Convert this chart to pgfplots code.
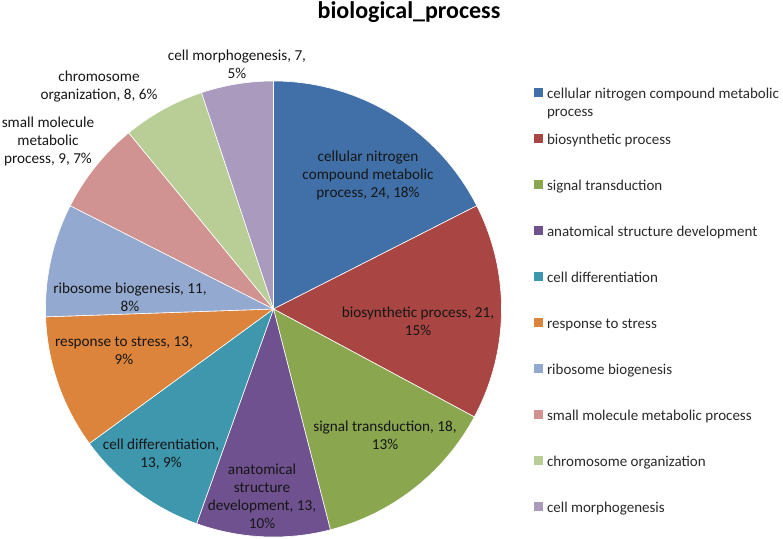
\documentclass[border=0pt]{standalone}
\usepackage{pgfplots}
\pgfplotsset{compat=1.18}
\usepackage{fontspec}
\setmainfont{Carlito}
\definecolor{cA}{HTML}{4170A8}
\definecolor{cB}{HTML}{A94542}
\definecolor{cC}{HTML}{8AA64F}
\definecolor{cD}{HTML}{6F5190}
\definecolor{cE}{HTML}{3F97AE}
\definecolor{cF}{HTML}{DC843B}
\definecolor{cG}{HTML}{93A9D0}
\definecolor{cH}{HTML}{D09392}
\definecolor{cI}{HTML}{B9CE97}
\definecolor{cJ}{HTML}{A99ABE}
\definecolor{labtext}{HTML}{161616}
\definecolor{legtext}{HTML}{2A2A2A}
% data values
\def\vA{24}\def\vB{21}\def\vC{18}\def\vD{13}\def\vE{13}
\def\vF{13}\def\vG{11}\def\vH{9}\def\vI{8}\def\vJ{7}
\pgfmathsetmacro\total{\vA+\vB+\vC+\vD+\vE+\vF+\vG+\vH+\vI+\vJ}
\pgfmathsetmacro\aA{90}
\pgfmathsetmacro\aB{\aA-360*\vA/\total}
\pgfmathsetmacro\aC{\aB-360*\vB/\total}
\pgfmathsetmacro\aD{\aC-360*\vC/\total}
\pgfmathsetmacro\aE{\aD-360*\vD/\total}
\pgfmathsetmacro\aF{\aE-360*\vE/\total}
\pgfmathsetmacro\aG{\aF-360*\vF/\total}
\pgfmathsetmacro\aH{\aG-360*\vG/\total}
\pgfmathsetmacro\aI{\aH-360*\vH/\total}
\pgfmathsetmacro\aJ{\aI-360*\vI/\total}
\pgfmathsetmacro\aK{\aJ-360*\vJ/\total}
\def\cx{273.5}\def\cy{230}\def\R{228}
\newcommand{\lab}{\fontsize{15.2bp}{18bp}\selectfont}
\begin{document}
\begin{tikzpicture}
\begin{axis}[
  scale only axis, width=783bp, height=539bp,
  xmin=0, xmax=783, ymin=0, ymax=539,
  hide axis, clip=false,
  legend cell align=left,
  legend style={at={(axis cs:534,451)}, anchor=north west, draw=none, fill=none,
    inner sep=0pt, outer sep=0pt, text=legtext,
    font=\fontsize{15bp}{19bp}\selectfont,
    row sep=30bp, column sep=4bp,
    nodes={inner sep=0pt, text height=11bp, text depth=5bp}},
  legend image code/.code={\fill[#1,draw=none] (0bp,-1bp) rectangle (9bp,8bp);},
  every axis plot/.append style={draw=white, line width=0.6pt, samples=90, variable=\t},
]
\addplot[fill=cA, domain=\aB:\aA] ({\cx+\R*cos(\t)},{\cy+\R*sin(\t)}) -- (axis cs:\cx,\cy) -- cycle;
\addlegendentry{\begin{tabular}[t]{@{}l@{}}cellular nitrogen compound metabolic\\[-1bp]process\end{tabular}}
\addplot[fill=cB, domain=\aC:\aB] ({\cx+\R*cos(\t)},{\cy+\R*sin(\t)}) -- (axis cs:\cx,\cy) -- cycle;
\addlegendentry{biosynthetic process}
\addplot[fill=cC, domain=\aD:\aC] ({\cx+\R*cos(\t)},{\cy+\R*sin(\t)}) -- (axis cs:\cx,\cy) -- cycle;
\addlegendentry{signal transduction}
\addplot[fill=cD, domain=\aE:\aD] ({\cx+\R*cos(\t)},{\cy+\R*sin(\t)}) -- (axis cs:\cx,\cy) -- cycle;
\addlegendentry{anatomical structure development}
\addplot[fill=cE, domain=\aF:\aE] ({\cx+\R*cos(\t)},{\cy+\R*sin(\t)}) -- (axis cs:\cx,\cy) -- cycle;
\addlegendentry{cell differentiation}
\addplot[fill=cF, domain=\aG:\aF] ({\cx+\R*cos(\t)},{\cy+\R*sin(\t)}) -- (axis cs:\cx,\cy) -- cycle;
\addlegendentry{response to stress}
\addplot[fill=cG, domain=\aH:\aG] ({\cx+\R*cos(\t)},{\cy+\R*sin(\t)}) -- (axis cs:\cx,\cy) -- cycle;
\addlegendentry{ribosome biogenesis}
\addplot[fill=cH, domain=\aI:\aH] ({\cx+\R*cos(\t)},{\cy+\R*sin(\t)}) -- (axis cs:\cx,\cy) -- cycle;
\addlegendentry{small molecule metabolic process}
\addplot[fill=cI, domain=\aJ:\aI] ({\cx+\R*cos(\t)},{\cy+\R*sin(\t)}) -- (axis cs:\cx,\cy) -- cycle;
\addlegendentry{chromosome organization}
\addplot[fill=cJ, domain=\aK:\aJ] ({\cx+\R*cos(\t)},{\cy+\R*sin(\t)}) -- (axis cs:\cx,\cy) -- cycle;
\addlegendentry{cell morphogenesis}

\node[font=\bfseries\fontsize{24bp}{28bp}\selectfont, anchor=base, text=black] at (axis cs:409,520) {biological\_process};

\begin{scope}[every node/.style={align=center, text=labtext, font=\lab, inner sep=0pt}]
\node at (axis cs:368,364) {cellular nitrogen\\compound metabolic\\process, 24, 18\%};
\node at (axis cs:418,218) {biosynthetic process, 21,\\15\%};
\node at (axis cs:385,104) {signal transduction, 18,\\13\%};
\node at (axis cs:262,43) {anatomical\\structure\\development, 13,\\10\%};
\node at (axis cs:161,85) {cell differentiation,\\13, 9\%};
\node at (axis cs:124,188) {response to stress, 13,\\9\%};
\node at (axis cs:130,242) {ribosome biogenesis, 11,\\8\%};
\node at (axis cs:48,398) {small molecule\\metabolic\\process, 9, 7\%};
\node at (axis cs:99,452) {chromosome\\organization, 8, 6\%};
\node at (axis cs:237,475) {cell morphogenesis, 7,\\5\%};
\end{scope}
\end{axis}
\pgfresetboundingbox
\path (current axis.south west) rectangle (current axis.north east);
\end{tikzpicture}
\end{document}
